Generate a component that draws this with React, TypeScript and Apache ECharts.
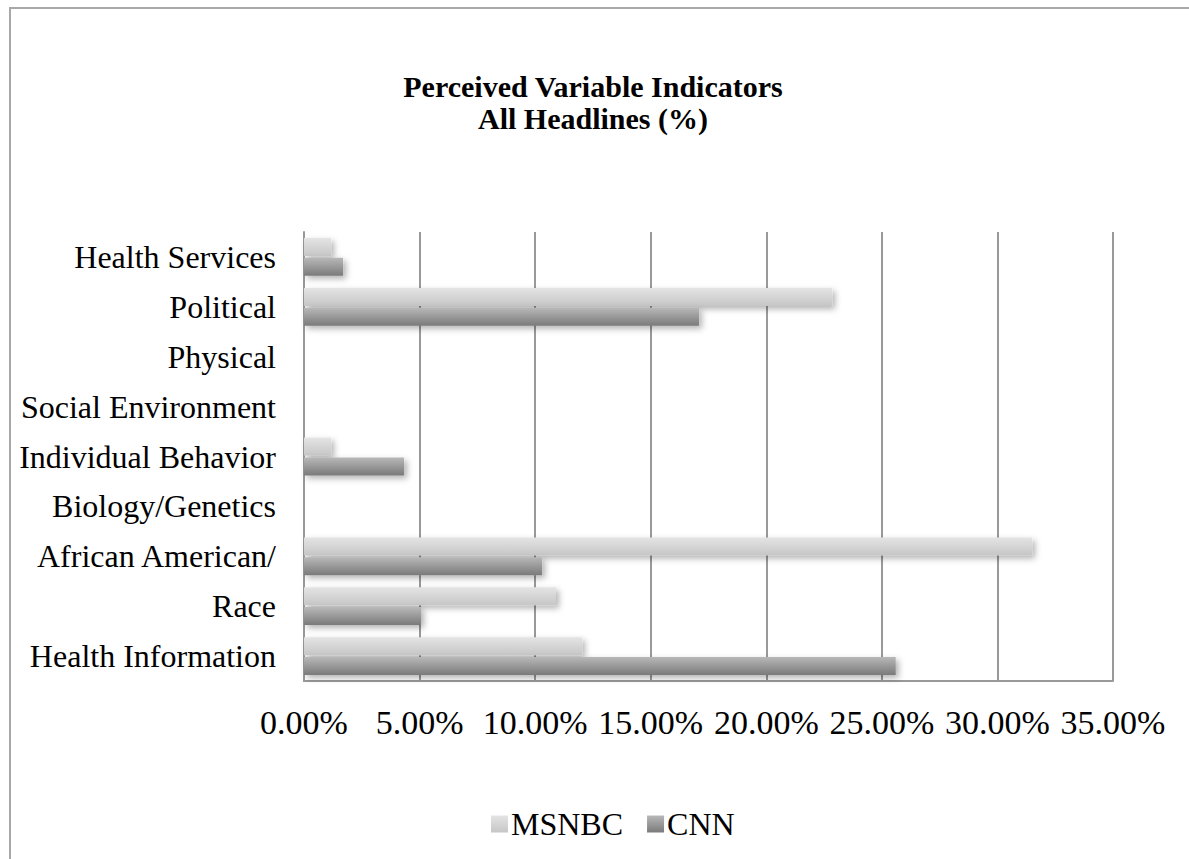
import React, { useEffect, useRef } from "react";
import * as echarts from "echarts";

// Categories listed bottom to top, as the y axis draws them
const categories = [
  "Health Information",
  "Race",
  "African American/",
  "Biology/Genetics",
  "Individual Behavior",
  "Social Environment",
  "Physical",
  "Political",
  "Health Services",
];

// Share of headlines (%)
const msnbc = [12.03, 10.9, 31.5, 0, 1.17, 0, 0, 22.85, 1.17];
const cnn = [25.6, 5.06, 10.3, 0, 4.33, 0, 0, 17.09, 1.69];

const xTicks = { min: 0, max: 35, interval: 5 };

const serif = "Liberation Serif";

export default function App() {
  const ref = useRef<HTMLDivElement>(null);

  useEffect(() => {
    if (!ref.current) return;
    const chart = echarts.init(ref.current, null, { renderer: "svg" });

    const lightGrad = new echarts.graphic.LinearGradient(0, 0, 0, 1, [
      { offset: 0, color: "#e4e4e4" },
      { offset: 1, color: "#c6c6c6" },
    ]);
    const darkGrad = new echarts.graphic.LinearGradient(0, 0, 0, 1, [
      { offset: 0, color: "#b8b8b8" },
      { offset: 1, color: "#7a7a7a" },
    ]);
    const shadow = {
      shadowBlur: 6,
      shadowOffsetX: 3,
      shadowOffsetY: 3,
      shadowColor: "rgba(0,0,0,0.3)",
    };

    chart.setOption({
      animation: false,
      backgroundColor: "#ffffff",
      title: {
        text: "Perceived Variable Indicators\nAll Headlines (%)",
        left: 588,
        textAlign: "center",
        top: 65,
        textStyle: {
          fontFamily: serif,
          fontSize: 30,
          fontWeight: "bold",
          color: "#000",
          lineHeight: 32,
        },
      },
      legend: {
        data: ["MSNBC", "CNN"],
        bottom: 14,
        left: 486,
        itemWidth: 17,
        itemHeight: 17,
        itemGap: 24,
        icon: "rect",
        textStyle: { fontFamily: serif, fontSize: 32, color: "#000", padding: [0, 0, 0, -2] },
      },
      grid: { left: 304, right: 76, top: 232, bottom: 178 },
      xAxis: {
        type: "value",
        min: xTicks.min,
        max: xTicks.max,
        interval: xTicks.interval,
        axisLine: { show: true, lineStyle: { color: "#999", width: 2 } },
        axisTick: { show: false },
        splitLine: { show: true, lineStyle: { color: "#999", width: 2 } },
        axisLabel: {
          fontFamily: serif,
          fontSize: 34,
          color: "#000",
          margin: 24,
          formatter: (v: number) => v.toFixed(2) + "%",
        },
      },
      yAxis: {
        type: "category",
        data: categories,
        axisLine: { show: true, lineStyle: { color: "#999", width: 2 } },
        axisTick: { show: false },
        axisLabel: {
          fontFamily: serif,
          fontSize: 32,
          color: "#000",
          margin: 28,
        },
      },
      series: [
        {
          name: "MSNBC",
          type: "bar",
          data: msnbc,
          barWidth: 18,
          barGap: "10%",
          itemStyle: { color: lightGrad, ...shadow },
        },
        {
          name: "CNN",
          type: "bar",
          data: cnn,
          barWidth: 18,
          barGap: "10%",
          itemStyle: { color: darkGrad, ...shadow },
        },
      ],
      graphic: [
        {
          type: "line",
          shape: { x1: 10, y1: 8, x2: 10, y2: 859 },
          style: { stroke: "#a8a8a8", lineWidth: 2 },
        },
        {
          type: "line",
          shape: { x1: 9, y1: 8, x2: 1189, y2: 8 },
          style: { stroke: "#a8a8a8", lineWidth: 2 },
        },
      ],
    });

    return () => chart.dispose();
  }, []);

  return (
    <div
      ref={ref}
      style={{ position: "fixed", left: 0, top: 0, width: 1189, height: 859 }}
    />
  );
}
